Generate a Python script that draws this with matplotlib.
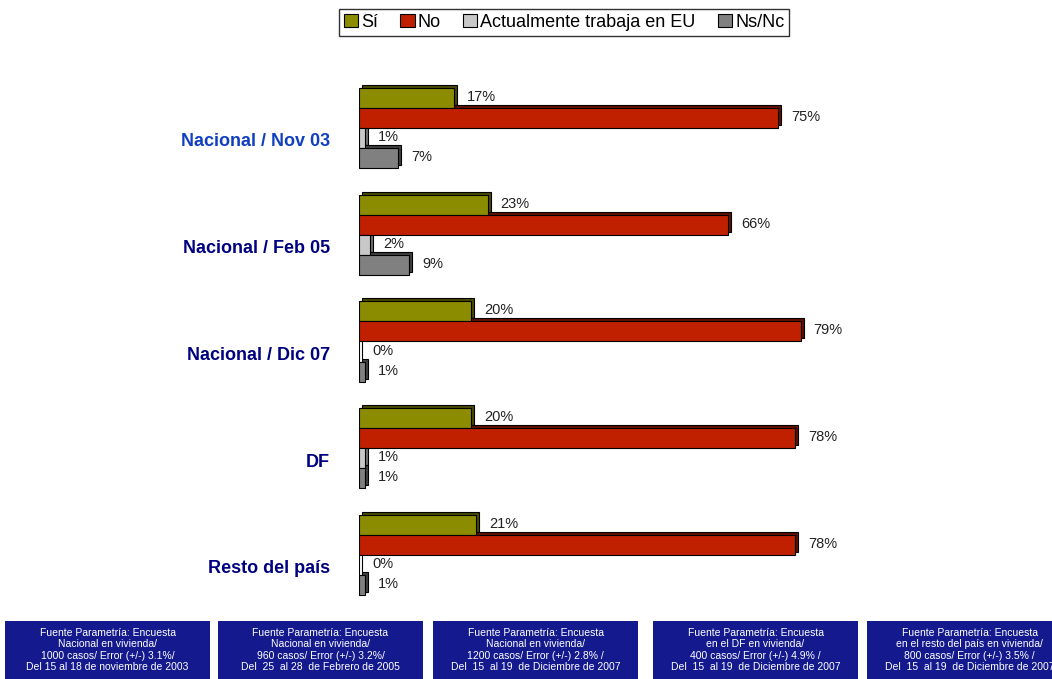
import matplotlib
matplotlib.use("Agg")
import matplotlib.pyplot as plt
import matplotlib.transforms as mtransforms
from matplotlib.patches import Rectangle
import numpy as np

plt.rcParams['font.family'] = ['Liberation Sans', 'DejaVu Sans']

categories = ["Nacional / Nov 03", "Nacional / Feb 05", "Nacional / Dic 07", "DF", "Resto del país"]
label_colors = ["#1040c0", "#000080", "#000080", "#000080", "#000080"]
series_names = ["Sí", "No", "Actualmente trabaja en EU", "Ns/Nc"]
si = [17, 23, 20, 20, 21]
no = [75, 66, 79, 78, 78]
actual = [1, 2, 0, 1, 0]
nsnc = [7, 9, 1, 1, 1]
series_colors = ["#8c8c00", "#c02000", "#c8c8c8", "#808080"]
side_colors = ["#4a4a00", "#601000", "#707070", "#404040"]

footer_texts = [
    "Fuente Parametría: Encuesta\nNacional en vivienda/\n1000 casos/ Error (+/-) 3.1%/\nDel 15 al 18 de noviembre de 2003",
    "Fuente Parametría: Encuesta\nNacional en vivienda/\n960 casos/ Error (+/-) 3.2%/\nDel  25  al 28  de Febrero de 2005",
    "Fuente Parametría: Encuesta\nNacional en vivienda/\n1200 casos/ Error (+/-) 2.8% /\nDel  15  al 19  de Diciembre de 2007",
    "Fuente Parametría: Encuesta\nen el DF en vivienda/\n400 casos/ Error (+/-) 4.9% /\nDel  15  al 19  de Diciembre de 2007",
    "Fuente Parametría: Encuesta\nen el resto del país en vivienda/\n800 casos/ Error (+/-) 3.5% /\nDel  15  al 19  de Diciembre de 2007",
]

W, H = 1052, 679
fig = plt.figure(figsize=(W / 100, H / 100), dpi=100)

# axes: x from px 359 to 918 (0..100), y from px 74.6 to 608.4
ax_left, ax_right = 359, 918
ax_top, ax_bot = 74.6, 608.4
ax = fig.add_axes([ax_left / W, 1 - ax_bot / H, (ax_right - ax_left) / W, (ax_bot - ax_top) / H])
ax.set_xlim(0, 100)
ax.set_ylim(4.5, -0.5)
ax.axis('off')

series = [si, no, actual, nsnc]
bh = 0.188
offsets = [-1.5 * bh, -0.5 * bh, 0.5 * bh, 1.5 * bh]
y = np.arange(len(categories))
shadow = mtransforms.offset_copy(ax.transData, fig=fig, x=3, y=3, units='dots')

for j, vals in enumerate(series):
    yy = y + offsets[j]
    # back face (depth)
    ax.barh(yy, vals, height=bh, color=side_colors[j], edgecolor='black', linewidth=0.8,
            transform=shadow, zorder=1 + j * 0.01 - 0.5)
    ax.barh(yy, vals, height=bh, color=series_colors[j], edgecolor='black', linewidth=0.8,
            zorder=2 + j * 0.01, label=series_names[j])
    for yi, v in zip(yy, vals):
        ax.annotate(f"{v}%", xy=(v, yi), xytext=(13, 1), textcoords='offset pixels',
                    ha='left', va='center', fontsize=10.5, color='#222222')

for i, (c, col) in enumerate(zip(categories, label_colors)):
    ax.annotate(c, xy=(0, i + 0.13), xytext=(-29, 0), textcoords='offset pixels',
                ha='right', va='center', fontsize=13, fontweight='bold', color=col,
                annotation_clip=False)

handles = [Rectangle((0, 0), 1, 1, facecolor=c, edgecolor='black', linewidth=0.8) for c in series_colors]
leg = fig.legend(handles, series_names, loc='center', bbox_to_anchor=(564 / W, 1 - 22.5 / H),
                 ncol=4, frameon=True, fancybox=False, fontsize=13, handlelength=0.8,
                 handleheight=0.7, handletextpad=0.15, columnspacing=1.25, borderpad=0.25,
                 borderaxespad=0, edgecolor='black')
leg.get_frame().set_linewidth(1.0)

# footer boxes
box_lefts = [5, 218, 433, 653, 867]
box_w = 205
for bx, txt in zip(box_lefts, footer_texts):
    r = Rectangle((bx / W, 0), box_w / W, (H - 621) / H, transform=fig.transFigure,
                  facecolor='#141a8e', edgecolor='none')
    fig.patches.append(r)
    fig.text((bx + box_w / 2) / W, 1 - 650 / H, txt, ha='center', va='center', color='white',
             fontsize=7.5, linespacing=1.15, family=['Liberation Sans Narrow', 'Liberation Sans'])

fig.savefig("out.png", dpi=100)
